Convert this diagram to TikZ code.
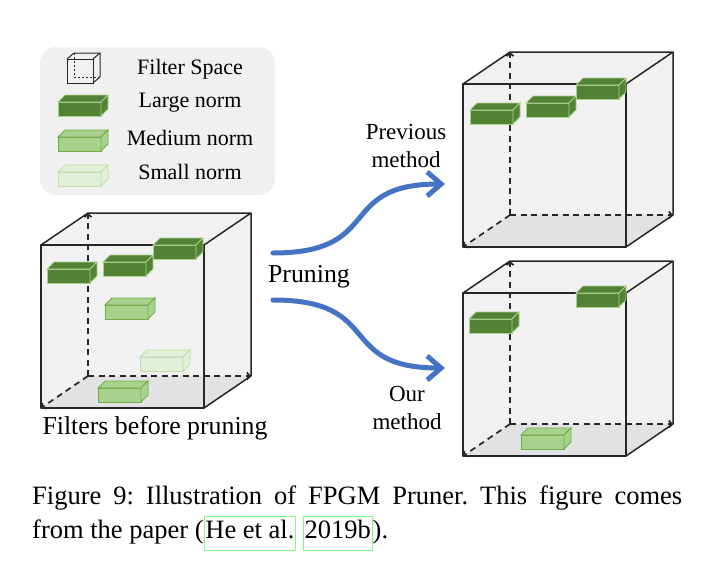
\documentclass[tikz,border=0pt]{standalone}
\usepackage{fontspec}
\setmainfont{Liberation Serif}
\usetikzlibrary{arrows.meta}
\definecolor{cubeFillColor}{RGB}{241,241,241}
\definecolor{floorFillColor}{RGB}{226,226,226}
\definecolor{legendColor}{RGB}{240,240,240}
\definecolor{edgeColor}{RGB}{38,38,38}
\definecolor{largeNormColor}{RGB}{84,130,53}
\definecolor{mediumNormColor}{RGB}{169,209,142}
\definecolor{mediumEdgeColor}{RGB}{112,173,71}
\definecolor{smallNormColor}{RGB}{226,240,217}
\definecolor{smallEdgeColor}{RGB}{190,222,170}
\definecolor{arrowColor}{RGB}{68,114,196}
\definecolor{linkColor}{RGB}{128,250,128}
\tikzstyle{pixels} = [x = 1pt, y = -1pt]
\tikzstyle{cubeEdge} = [color=edgeColor, line width=1.5pt, line join=round]
\tikzstyle{cubeAxis} = [color=edgeColor, line width=1.7pt, dash pattern=on 6pt off 4.5pt, -{Straight Barb[length=3pt, width=7pt]}]
\tikzstyle{largeNorm} = [fill=largeNormColor, draw=mediumNormColor, line width=.8pt]
\tikzstyle{mediumNorm} = [fill=mediumNormColor, draw=mediumEdgeColor, line width=.8pt]
\tikzstyle{smallNorm} = [fill=smallNormColor, draw=smallEdgeColor, line width=.8pt]
\tikzstyle{pruneArrow} = [color=arrowColor, line width=5pt, line cap=round, -{Straight Barb[length=14pt, width=24pt]}]
\tikzstyle{legendText} = [font=\fontsize{22}{26}\selectfont, inner sep=0]
\tikzstyle{labelText} = [font=\fontsize{23}{28}\selectfont, align=center, inner sep=0]
\tikzstyle{bigText} = [font=\fontsize{25.8}{30}\selectfont, inner sep=0]
\tikzstyle{captionText} = [font=\fontsize{26.5}{34}\selectfont\frenchspacing, inner sep=0, text width=650pt, align=justify]
\newcommand{\cubeSize}{163}
\newcommand{\cubeDx}{47}
\newcommand{\cubeDy}{32}
\newcommand{\boxWidth}{43}
\newcommand{\boxHeight}{14}
\newcommand{\boxDepth}{7}
\newcommand{\filterCube}[2]{
  \fill [cubeFillColor] (#1, #2) -- ++(\cubeDx, -\cubeDy) -- ++(\cubeSize, 0) -- ++(0, \cubeSize) -- ++(-\cubeDx, \cubeDy) -- ++(-\cubeSize, 0) -- cycle;
  \fill [floorFillColor] (#1, #2 + \cubeSize) -- ++(\cubeDx, -\cubeDy) -- ++(\cubeSize, 0) -- ++(-\cubeDx, \cubeDy) -- cycle;
  \draw [cubeAxis] (#1 + \cubeDx, #2 + \cubeSize - \cubeDy) -- ++(0, -\cubeSize);
  \draw [cubeAxis] (#1 + \cubeDx, #2 + \cubeSize - \cubeDy) -- ++(\cubeSize, 0);
  \draw [cubeAxis] (#1 + \cubeDx, #2 + \cubeSize - \cubeDy) -- ++(-\cubeDx, \cubeDy);
  \draw [cubeEdge] (#1, #2) rectangle ++(\cubeSize, \cubeSize);
  \draw [cubeEdge] (#1, #2) -- ++(\cubeDx, -\cubeDy) -- ++(\cubeSize, 0) -- ++(-\cubeDx, \cubeDy);
  \draw [cubeEdge] (#1 + \cubeSize + \cubeDx, #2 - \cubeDy) -- ++(0, \cubeSize) -- ++(-\cubeDx, \cubeDy);
}
\newcommand{\normBox}[3]{
  \filldraw [#1] (#2, #3) rectangle ++(\boxWidth, \boxHeight);
  \filldraw [#1] (#2, #3) -- ++(\boxDepth, -\boxDepth) -- ++(\boxWidth, 0) -- ++(-\boxDepth, \boxDepth) -- cycle;
  \filldraw [#1] (#2 + \boxWidth, #3) -- ++(\boxDepth, -\boxDepth) -- ++(0, \boxHeight) -- ++(-\boxDepth, \boxDepth) -- cycle;
}
\newcommand{\linkBox}[1]{{\fboxsep=1pt\fboxrule=.8pt\textcolor{linkColor}{\fbox{\color{black}\rule[-10pt]{0pt}{31pt}#1}}}}

\begin{document}
\begin{tikzpicture}[pixels]
  \useasboundingbox (0, 0) rectangle (716, 574);

  % legend
  \fill [legendColor, rounded corners = 16pt] (40, 47) rectangle (275, 195);
  \fill [cubeFillColor] (67, 59) -- ++(7, -6) -- ++(26, 0) -- ++(0, 24) -- ++(-7, 6) -- ++(-26, 0) -- cycle;
  \draw [color=edgeColor, line width=.8pt, dash pattern=on 2pt off 2pt] (74, 53) -- (74, 77) -- (100, 77);
  \draw [color=edgeColor, line width=1pt] (67, 59) rectangle (93, 83);
  \draw [color=edgeColor, line width=1pt] (67, 59) -- (74, 53) -- (100, 53) -- (100, 77) -- (93, 83);
  \draw [color=edgeColor, line width=1pt] (100, 53) -- (93, 59);
  \normBox{largeNorm}{58}{102}
  \normBox{mediumNorm}{58}{137}
  \normBox{smallNorm}{58}{172}
  \node [legendText] (filterSpaceText) at (190, 69) {Filter Space};
  \node [legendText] (largeNormText) at (190, 103) {Large norm};
  \node [legendText] (mediumNormText) at (190, 138) {Medium norm};
  \node [legendText] (smallNormText) at (190, 172) {Small norm};

  % filters before pruning
  \filterCube{41}{245}
  \foreach \bx/\by in {47/269, 103/262, 153/245} {\normBox{largeNorm}{\bx}{\by}}
  \normBox{mediumNorm}{105}{305}
  \normBox{smallNorm}{140}{357}
  \normBox{mediumNorm}{98}{388}
  \node [bigText] (beforeText) at (155, 428) {Filters before pruning};

  % previous method
  \filterCube{463}{84}
  \foreach \bx/\by in {470/110, 526/103, 576/85} {\normBox{largeNorm}{\bx}{\by}}

  % our method
  \filterCube{463}{293}
  \foreach \bx/\by in {469/319, 576/293} {\normBox{largeNorm}{\bx}{\by}}
  \normBox{mediumNorm}{521}{435}

  % arrows
  \node [bigText] (pruningText) at (309, 277) {Pruning};
  \node [labelText] (previousText) at (406, 146) {Previous\\method};
  \node [labelText] (ourText) at (407, 408) {Our\\method};
  \coordinate (upperStart) at (273, 253);
  \coordinate (upperEnd) at (445, 184);
  \coordinate (lowerStart) at (273, 300);
  \coordinate (lowerEnd) at (445, 368);
  \draw [pruneArrow] (upperStart) .. controls (385, 253) and (335, 184) .. (upperEnd);
  \draw [pruneArrow] (lowerStart) .. controls (385, 300) and (335, 368) .. (lowerEnd);

  % caption
  \node [captionText, anchor=north west] (figureCaption) at (32, 486) {Figure 9: Illustration of FPGM Pruner. This figure comes\linebreak from the paper (\linkBox{He et al.} \linkBox{2019b}).};
\end{tikzpicture}
\end{document}
